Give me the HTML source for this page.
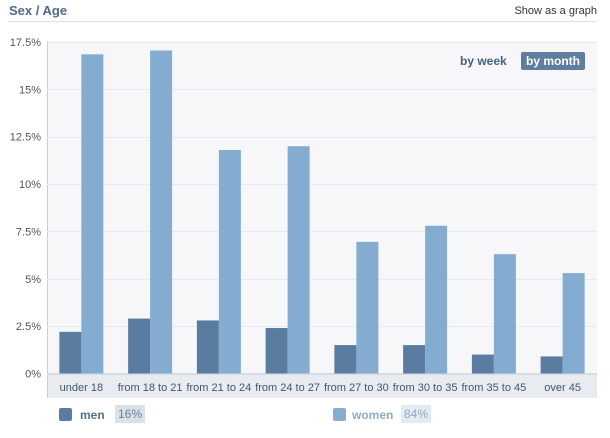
<!DOCTYPE html>
<html><head><meta charset="utf-8"><style>
body{margin:0;width:610px;height:438px;background:#fff;font-family:"Liberation Sans",Tahoma,sans-serif;overflow:hidden;position:relative}
.abs{position:absolute}
</style></head><body>
<div class="abs" style="left:9px;top:3px;font-size:13px;font-weight:bold;color:#4e6a8a">Sex / Age</div>
<div class="abs" style="right:13px;top:5px;font-size:11px;color:#333">Show as a graph</div>
<div class="abs" style="left:9px;top:21px;width:588px;height:1px;background:#dde3ea"></div>
<svg class="abs" style="left:0;top:0" width="610" height="438">
<rect x="47" y="41" width="550" height="333" fill="#f7f7f9"/>
<rect x="47" y="374" width="550" height="24" fill="#e8ecf1"/>
<line x1="47.5" y1="41" x2="47.5" y2="398" stroke="#c5d0dc"/>
<g id="grid"></g><g id="bars"></g><g id="labels"></g>
</svg>
<div class="abs" style="left:460px;top:54px;font-size:12px;font-weight:bold;color:#45617f">by week</div>
<div class="abs" style="left:521px;top:52px;padding:2px 5px;background:#5f7d9e;border-radius:2px;font-size:12px;font-weight:bold;color:#fff">by month</div>
<div class="abs" style="left:59px;top:408px;height:16px">
<span style="position:absolute;left:0;top:0;width:13px;height:13px;background:#5b7ca1;border-radius:2px"></span>
<span style="position:absolute;left:21px;top:0;font-size:12px;font-weight:bold;color:#55708e">men</span>
<span style="position:absolute;left:56px;top:-3px;padding:2px 3px;background:#dae1e8;font-size:12px;color:#6a7f96">16%</span></div>
<div class="abs" style="left:333px;top:408px;height:16px">
<span style="position:absolute;left:0;top:0;width:13px;height:13px;background:#86add0;border-radius:2px"></span>
<span style="position:absolute;left:19px;top:0;font-size:12px;font-weight:bold;color:#8fa9c4">women</span>
<span style="position:absolute;left:68px;top:-3px;padding:2px 3px;background:#e3ebf4;font-size:12px;color:#8fa9c4">84%</span></div>
<script>
const categories=["under 18","from 18 to 21","from 21 to 24","from 24 to 27","from 27 to 30","from 30 to 35","from 35 to 45","over 45"];
const men=[2.2,2.9,2.8,2.4,1.5,1.5,1.0,0.9];
const women=[16.85,17.05,11.8,12.0,6.95,7.8,6.3,5.3];
const ticks=[0,2.5,5,7.5,10,12.5,15,17.5];
const tickLabels=["0%","2.5%","5%","7.5%","10%","12.5%","15%","17.5%"];
const NS="http://www.w3.org/2000/svg";
const x0=47,x1=597,y0=373.5,yTop=42;
const y=v=>y0-(v/17.5)*(y0-yTop);
const gw=(x1-x0)/categories.length;
const grid=document.getElementById('grid'),bars=document.getElementById('bars'),labels=document.getElementById('labels');
function mk(tag,attrs,parent){const e=document.createElementNS(NS,tag);for(const k in attrs)e.setAttribute(k,attrs[k]);parent.appendChild(e);return e;}
ticks.forEach((t,i)=>{
 if(t>0){const l=mk('line',{x1:x0,x2:x1,y1:Math.round(y(t))+0.5,y2:Math.round(y(t))+0.5,stroke:'#e6e9ef'},grid);
 
 }
 const tx=mk('text',{x:41,y:y(t)+4,'text-anchor':'end','font-size':11,fill:'#555'},labels);
 tx.textContent=tickLabels[i];
 
 
});
const base=mk('line',{x1:x0,x2:x1,y1:374,y2:374,stroke:'#d5dce5','stroke-width':2},grid);


categories.forEach((c,i)=>{
 const cx=x0+gw*i+gw/2;
 const m=mk('rect',{x:cx-22,y:y(men[i]),width:22,height:y0-y(men[i]),fill:'#5b7ca1'},bars);
 
 
 const w=mk('rect',{x:cx,y:y(women[i]),width:22,height:y0-y(women[i]),fill:'#84acd0'},bars);
 
 
 const t=mk('text',{x:cx,y:391,'text-anchor':'middle','font-size':11,fill:'#44566c'},labels);
 t.textContent=c;
 
 
});
</script>
</body></html>
